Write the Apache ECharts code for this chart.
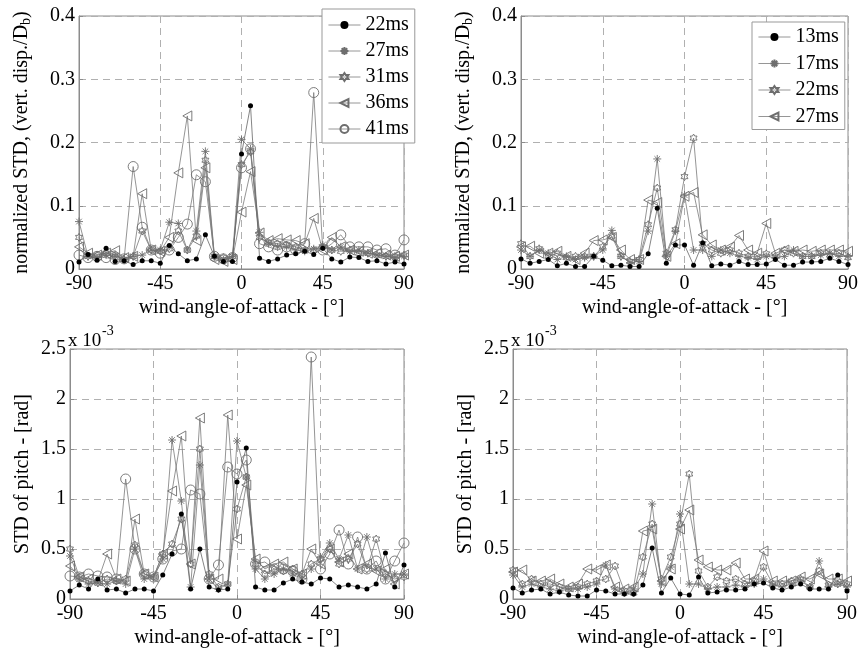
<!DOCTYPE html>
<html><head><meta charset="utf-8">
<script src="https://cdn.jsdelivr.net/npm/echarts/dist/echarts.min.js"></script>
<style>html,body{margin:0;padding:0;background:#fff}#c{width:862px;height:652px}</style>
</head><body><div id="c"></div>
<script>
// ---------------- DATA ----------------
const ANGLES = [-90,-85,-80,-75,-70,-65,-60,-55,-50,-45,-40,-35,-30,-25,-20,-15,-10,-5,0,5,10,15,20,25,30,35,40,45,50,55,60,65,70,75,80,85,90];
const X_TICKS = [-90,-45,0,45,90];

// top-left: normalized STD of vertical displacement
const TL_NAMES = ['22ms','27ms','31ms','36ms','41ms'];
const TL_22 = [0.011,0.023,0.014,0.033,0.012,0.013,0.007,0.013,0.013,0.009,0.037,0.024,0.013,0.016,0.054,0.020,0.012,0.012,0.182,0.258,0.017,0.012,0.016,0.022,0.024,0.028,0.023,0.033,0.016,0.011,0.019,0.018,0.012,0.013,0.008,0.011,0.008];
const TL_27 = [0.075,0.020,0.018,0.022,0.020,0.015,0.020,0.022,0.030,0.030,0.074,0.072,0.030,0.060,0.186,0.020,0.015,0.020,0.205,0.190,0.058,0.040,0.035,0.035,0.030,0.028,0.032,0.038,0.030,0.035,0.028,0.030,0.025,0.022,0.020,0.018,0.020];
const TL_31 = [0.050,0.020,0.022,0.025,0.022,0.015,0.020,0.060,0.030,0.028,0.032,0.060,0.030,0.052,0.172,0.020,0.018,0.020,0.165,0.185,0.050,0.042,0.040,0.038,0.035,0.030,0.030,0.035,0.030,0.028,0.030,0.025,0.025,0.022,0.020,0.020,0.022];
const TL_36 = [0.035,0.025,0.022,0.025,0.029,0.018,0.020,0.119,0.030,0.028,0.050,0.152,0.242,0.045,0.160,0.015,0.012,0.015,0.090,0.154,0.057,0.045,0.048,0.046,0.045,0.040,0.080,0.030,0.050,0.035,0.030,0.028,0.025,0.025,0.022,0.020,0.022];
const TL_41 = [0.022,0.018,0.020,0.018,0.015,0.016,0.162,0.066,0.030,0.025,0.030,0.050,0.071,0.149,0.138,0.020,0.016,0.018,0.160,0.190,0.040,0.035,0.030,0.035,0.030,0.040,0.279,0.030,0.040,0.054,0.035,0.035,0.035,0.030,0.032,0.022,0.046];

// top-right: normalized STD of vertical displacement
const TR_NAMES = ['13ms','17ms','22ms','27ms'];
const TR_13 = [0.016,0.009,0.012,0.015,0.005,0.009,0.004,0.004,0.020,0.014,0.005,0.006,0.004,0.004,0.024,0.096,0.009,0.038,0.038,0.006,0.041,0.005,0.008,0.006,0.012,0.007,0.007,0.008,0.015,0.006,0.006,0.011,0.011,0.012,0.017,0.012,0.007];
const TR_17 = [0.030,0.020,0.030,0.025,0.015,0.020,0.015,0.018,0.020,0.030,0.061,0.020,0.010,0.012,0.060,0.174,0.020,0.060,0.117,0.030,0.030,0.020,0.030,0.025,0.020,0.018,0.015,0.020,0.018,0.020,0.030,0.020,0.020,0.022,0.025,0.020,0.020];
const TR_22 = [0.040,0.020,0.032,0.020,0.025,0.018,0.020,0.020,0.020,0.035,0.052,0.020,0.012,0.015,0.070,0.128,0.025,0.062,0.146,0.207,0.040,0.030,0.025,0.030,0.025,0.020,0.020,0.024,0.020,0.030,0.025,0.020,0.020,0.025,0.022,0.025,0.018];
const TR_27 = [0.035,0.036,0.025,0.025,0.028,0.020,0.015,0.025,0.045,0.046,0.050,0.030,0.015,0.015,0.109,0.105,0.020,0.040,0.115,0.121,0.054,0.038,0.030,0.035,0.053,0.030,0.025,0.072,0.025,0.030,0.028,0.030,0.028,0.030,0.030,0.030,0.028];

// bottom-left: STD of pitch (x 10^-3 rad)
const BL_22 = [0.08,0.14,0.10,0.20,0.09,0.10,0.06,0.10,0.10,0.08,0.24,0.45,0.85,0.10,0.50,0.12,0.09,0.10,1.17,1.51,0.12,0.09,0.09,0.16,0.20,0.17,0.15,0.21,0.20,0.12,0.14,0.12,0.10,0.15,0.46,0.12,0.34];
const BL_27 = [0.43,0.20,0.15,0.16,0.15,0.18,0.15,0.50,0.20,0.22,0.40,1.59,0.98,0.12,1.34,0.20,0.10,0.15,1.58,1.22,0.30,0.20,0.25,0.30,0.25,0.20,0.30,0.42,0.56,0.40,0.64,0.30,0.62,0.30,0.20,0.25,0.25];
const BL_31 = [0.50,0.22,0.18,0.16,0.20,0.18,0.20,0.54,0.25,0.22,0.45,0.55,0.80,0.35,1.50,0.25,0.12,0.15,0.90,1.22,0.35,0.25,0.30,0.28,0.30,0.25,0.35,0.40,0.50,0.35,0.40,0.55,0.30,0.60,0.25,0.20,0.22];
const BL_36 = [0.33,0.22,0.20,0.18,0.45,0.20,0.18,0.80,0.25,0.22,0.45,1.08,1.63,0.35,1.81,0.20,0.20,1.84,0.60,1.14,0.40,0.30,0.35,0.37,0.30,0.25,0.50,0.35,0.50,0.37,0.45,0.30,0.35,0.28,0.30,0.15,0.25];
const BL_41 = [0.23,0.22,0.25,0.23,0.22,0.20,1.20,0.50,0.25,0.22,0.40,0.48,0.50,1.09,1.05,0.20,0.34,1.32,1.25,1.39,0.35,0.37,0.30,0.30,0.28,0.20,2.42,0.30,0.45,0.69,0.35,0.62,0.30,0.38,0.20,0.38,0.56];

// bottom-right: STD of pitch (x 10^-3 rad)
const BR_13 = [0.11,0.06,0.09,0.10,0.05,0.07,0.04,0.03,0.03,0.09,0.08,0.05,0.05,0.05,0.14,0.51,0.06,0.21,0.05,0.04,0.22,0.06,0.07,0.09,0.09,0.10,0.15,0.16,0.11,0.09,0.12,0.15,0.10,0.10,0.10,0.24,0.08];
const BR_17 = [0.24,0.12,0.15,0.12,0.10,0.08,0.10,0.10,0.12,0.15,0.34,0.10,0.06,0.10,0.25,0.95,0.15,0.32,0.85,0.15,0.15,0.10,0.12,0.12,0.14,0.12,0.15,0.20,0.14,0.12,0.15,0.18,0.12,0.38,0.12,0.15,0.12];
const BR_22 = [0.29,0.15,0.20,0.15,0.15,0.12,0.10,0.12,0.15,0.18,0.20,0.33,0.08,0.06,0.42,0.75,0.20,0.42,0.75,1.25,0.28,0.12,0.22,0.18,0.20,0.15,0.18,0.32,0.15,0.15,0.18,0.20,0.12,0.28,0.14,0.15,0.15];
const BR_27 = [0.27,0.29,0.18,0.18,0.20,0.15,0.12,0.15,0.30,0.29,0.34,0.12,0.10,0.12,0.68,0.70,0.18,0.30,0.70,0.89,0.39,0.32,0.29,0.29,0.36,0.20,0.20,0.48,0.18,0.18,0.18,0.22,0.20,0.25,0.20,0.20,0.18];

const X_NAME = 'wind-angle-of-attack - [°]';
const Y_NAME_TOP = 'normalized STD, (vert. disp./D{b|b})';
const Y_NAME_BOTTOM = 'STD of pitch - [rad]';

// ---------------- STYLE ----------------
const FONT = '"Liberation Serif", "Times New Roman", serif';
const LINE_GRAY = '#7a7a7a';
const MARK_GRAY = '#6e6e6e';
const STAR = 'path://M0,-5L0,5M-5,0L5,0M-3.5,-3.5L3.5,3.5M-3.5,3.5L3.5,-3.5';
const HEXA = 'path://M0,-5L1.443,-2.5L4.33,-2.5L2.887,0L4.33,2.5L1.443,2.5L0,5L-1.443,2.5L-4.33,2.5L-2.887,0L-4.33,-2.5L-1.443,-2.5Z';
const TRI = 'path://M-5,0L5,-5L5,5Z';

const MARKERS = {
  dot:  {symbol:'circle', symbolSize:5, itemStyle:{color:'#000', borderColor:'#000', borderWidth:0}, line:'#666'},
  star: {symbol:STAR, symbolSize:8, itemStyle:{color:'rgba(0,0,0,0)', borderColor:MARK_GRAY, borderWidth:0.9}, line:LINE_GRAY},
  hexa: {symbol:HEXA, symbolSize:8, itemStyle:{color:'rgba(0,0,0,0)', borderColor:MARK_GRAY, borderWidth:0.9}, line:LINE_GRAY},
  tri:  {symbol:TRI, symbolSize:[9,10], itemStyle:{color:'rgba(0,0,0,0)', borderColor:MARK_GRAY, borderWidth:0.9}, line:LINE_GRAY},
  circ: {symbol:'circle', symbolSize:10, itemStyle:{color:'rgba(0,0,0,0)', borderColor:MARK_GRAY, borderWidth:0.9}, line:LINE_GRAY}
};

const GRIDS = [
  {left:79, top:16, width:325, height:253},
  {left:521, top:16, width:327, height:253},
  {left:70, top:349, width:334, height:250},
  {left:513, top:349, width:334, height:250}
];

function mkSeries(name, vals, mk, idx) {
  const m = MARKERS[mk];
  return {
    type:'line', name:name, xAxisIndex:idx, yAxisIndex:idx,
    data: ANGLES.map((a,k)=>[a, vals[k]]),
    symbol:m.symbol, symbolSize:m.symbolSize, symbolKeepAspect:true,
    showAllSymbol:true,
    lineStyle:{color:m.line, width:0.8},
    itemStyle:m.itemStyle,
    emphasis:{disabled:true},
    animation:false, z: mk==='dot' ? 5 : 3
  };
}

const series = [
  mkSeries('22ms', TL_22, 'dot', 0),
  mkSeries('27ms', TL_27, 'star', 0),
  mkSeries('31ms', TL_31, 'hexa', 0),
  mkSeries('36ms', TL_36, 'tri', 0),
  mkSeries('41ms', TL_41, 'circ', 0),
  mkSeries('R13ms', TR_13, 'dot', 1),
  mkSeries('R17ms', TR_17, 'star', 1),
  mkSeries('R22ms', TR_22, 'hexa', 1),
  mkSeries('R27ms', TR_27, 'tri', 1),
  mkSeries('22ms', BL_22, 'dot', 2),
  mkSeries('27ms', BL_27, 'star', 2),
  mkSeries('31ms', BL_31, 'hexa', 2),
  mkSeries('36ms', BL_36, 'tri', 2),
  mkSeries('41ms', BL_41, 'circ', 2),
  mkSeries('R13ms', BR_13, 'dot', 3),
  mkSeries('R17ms', BR_17, 'star', 3),
  mkSeries('R22ms', BR_22, 'hexa', 3),
  mkSeries('R27ms', BR_27, 'tri', 3)
];

const axisLineStyle = {show:true, onZero:false, lineStyle:{color:'#8c8c8c', width:1}};
const splitStyle = {show:true, lineStyle:{color:'#b0b0b0', width:1, type:[7,5]}};
const labelStyle = {color:'#000', fontFamily:FONT, fontSize:20};

const xAxes = GRIDS.map((g,i)=>({
  type:'value', gridIndex:i, min:X_TICKS[0], max:X_TICKS[X_TICKS.length-1], interval:45,
  axisLine:axisLineStyle, axisTick:{show:true, inside:true, length:4, lineStyle:{color:'#8c8c8c'}},
  axisLabel:Object.assign({margin:5}, labelStyle),
  splitLine:splitStyle,
  name:X_NAME, nameLocation:'middle', nameGap:29,
  nameTextStyle:{color:'#000', fontFamily:FONT, fontSize:20}
}));

const yAxes = GRIDS.map((g,i)=>{
  const top = i < 2;
  return {
    type:'value', gridIndex:i, min:0, max: top ? 0.4 : 2.5, interval: top ? 0.1 : 0.5,
    axisLine:axisLineStyle, axisTick:{show:true, inside:true, length:4, lineStyle:{color:'#8c8c8c'}},
    axisLabel:Object.assign({margin:4}, labelStyle),
    splitLine:splitStyle,
    name: top ? Y_NAME_TOP : Y_NAME_BOTTOM,
    nameLocation:'middle', nameGap: top ? 46 : 37,
    nameTextStyle:{color:'#000', fontFamily:FONT, fontSize:20,
      rich:{b:{fontFamily:FONT, fontSize:14, color:'#000', verticalAlign:'bottom', padding:[9,0,0,0]}}}
  };
});

const legendCommon = {
  orient:'vertical', backgroundColor:'#fff', borderColor:'#999', borderWidth:1,
  itemWidth:32, itemHeight:10, itemGap:6,
  lineStyle:{width:0.9, color:'#8a8a8a'},
  textStyle:{color:'#000', fontFamily:FONT, fontSize:20, lineHeight:20},
  selectedMode:false
};

const option = {
  backgroundColor:'#fff',
  animation:false,
  grid: GRIDS.map(g=>Object.assign({show:true, borderColor:'#8c8c8c', borderWidth:1, backgroundColor:'#fff'}, g)),
  xAxis:xAxes, yAxis:yAxes,
  legend:[
    Object.assign({}, legendCommon, {data:TL_NAMES, left:322, top:9, padding:[6,6,4,6]}),
    Object.assign({}, legendCommon, {data:TR_NAMES.map(n=>'R'+n), left:752, top:22, padding:[5,6,3,6], itemGap:6.5,
      formatter:n=>n.slice(1)})
  ],
  graphic:[
    {type:'text', x:68, y:341, style:{text:'x 10', font:'19px '+FONT, fill:'#000', textVerticalAlign:'middle'}},
    {type:'text', x:102, y:331, style:{text:'-3', font:'14px '+FONT, fill:'#000', textVerticalAlign:'middle'}},
    {type:'text', x:511, y:341, style:{text:'x 10', font:'19px '+FONT, fill:'#000', textVerticalAlign:'middle'}},
    {type:'text', x:545, y:331, style:{text:'-3', font:'14px '+FONT, fill:'#000', textVerticalAlign:'middle'}}
  ],
  series:series
};
const chart = echarts.init(document.getElementById('c'));
chart.setOption(option);
</script>
</body></html>
